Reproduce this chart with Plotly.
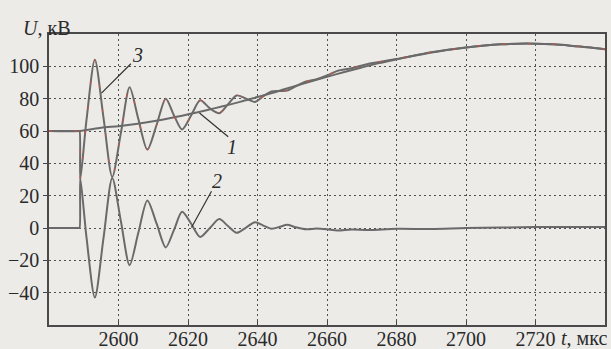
import plotly.graph_objects as go

# time, µs
t1 = [2580, 2588.8, 2595, 2600, 2605, 2610, 2615, 2620, 2625, 2630, 2635, 2640, 2645, 2650,
      2655, 2660, 2665, 2670, 2675, 2680, 2685, 2690, 2695, 2700, 2705, 2710, 2715, 2720,
      2725, 2730, 2735, 2740]
u1 = [60, 60, 62, 63, 64.3, 66, 68, 70.3, 72.7, 75.3, 78, 81, 84, 87.3,
      90.5, 93.5, 96.5, 99.3, 102, 104.3, 106.5, 108.5, 110.3, 111.7, 112.8, 113.6, 114, 114,
      113.6, 112.8, 111.8, 110.5]

t2 = [2580, 2588.6, 2588.8, 2589.0, 2590.8, 2593.2, 2595.7, 2598.2, 2600.7, 2603.2, 2605.7, 2608.3,
      2611, 2613.6, 2616, 2618.3, 2621, 2623.5, 2626.3, 2629, 2631.5, 2634, 2636.7, 2639.3,
      2641.7, 2644, 2646.5, 2648.5, 2651, 2654, 2657, 2660, 2663, 2667, 2672, 2680, 2690,
      2700, 2710, 2720, 2740]
u2 = [0, 0, 0, 31, -6, -43, -6, 31, 4, -23, -3, 17,
      2.5, -12, -1, 10, 2.3, -5.5, 0, 5.5, 1.2, -3, 0.3, 3.6,
      1.5, -0.5, 0.8, 2, 0.5, -0.8, -0.3, -0.8, -1.6, -1, -1.2, -0.5, -0.6,
      0, 0.3, 0.6, 0.6]

t3 = [2580, 2588.6, 2588.8, 2589.0, 2590.8, 2593.2, 2595.7, 2598.2, 2600.7, 2603.2, 2605.7, 2608.3,
      2611, 2613.6, 2616, 2618.3, 2621, 2623.5, 2626.3, 2629, 2631.5, 2634, 2636.7, 2639.3,
      2641.7, 2644, 2646.5, 2648.5, 2651, 2654, 2657, 2660, 2663, 2667, 2672, 2680, 2690,
      2700, 2710, 2715, 2720, 2725, 2730, 2735, 2740]
u3 = [60, 60, 60, 30, 67, 104, 68, 31.6, 59, 87, 67.5, 48.5,
      64, 80, 69.5, 61, 70, 79, 74, 71, 76.5, 82, 80, 78,
      81.5, 84.5, 84.8, 85, 87.6, 90.6, 92, 94.3, 97.2, 98.8, 101.6, 104.5, 108.7,
      111.7, 113.6, 114, 114, 113.6, 112.8, 111.8, 110.5]

x_ticks = [2600, 2620, 2640, 2660, 2680, 2700, 2720]
y_ticks = [-40, -20, 0, 20, 40, 60, 80, 100]
y_ticktext = ["\u221240", "\u221220", "0", "20", "40", "60", "80", "100"]

curve_color = "#6a6a6a"
bg = "#ecebe8"
font_family = "Liberation Serif"

fig = go.Figure()
fig.add_trace(go.Scatter(x=t1, y=u1, mode="lines", line=dict(color=curve_color, width=2, shape="spline", smoothing=0.8)))
fig.add_trace(go.Scatter(x=t2, y=u2, mode="lines", line=dict(color=curve_color, width=2, shape="spline", smoothing=0.8)))
fig.add_trace(go.Scatter(x=t3, y=u3, mode="lines", line=dict(color=curve_color, width=2, shape="spline", smoothing=0.8)))
fig.add_trace(go.Scatter(x=t3, y=u3, mode="lines", opacity=0.7,
                         line=dict(color="#e0503c", width=1.3, shape="spline", smoothing=0.8, dash="3px,22px")))

tick_font = dict(family=font_family, size=20, color="#2a2a2a")
grid = dict(showgrid=True, gridcolor="#505050", gridwidth=1, griddash="2px,3px")
fig.update_xaxes(range=[2580, 2740], tickvals=x_ticks, ticks="inside", ticklen=4, tickcolor="#444",
                 showline=True, mirror=True, linecolor="#4a4a4a", linewidth=1.5, zeroline=False,
                 tickfont=tick_font, automargin=False, ticklabelstandoff=-5, **grid)
fig.update_yaxes(range=[-60, 120], tickvals=y_ticks, ticktext=y_ticktext, ticks="outside", ticklen=4,
                 tickcolor="#444", showline=True, mirror=True, linecolor="#4a4a4a", linewidth=1.5,
                 zeroline=False, tickfont=tick_font, automargin=False, **grid)

lab_font = dict(family=font_family, size=20, color="#2a2a2a")
annotations = [
    dict(text="<i>U</i>, кВ", xref="paper", yref="paper", x=-0.05, y=1.02, xanchor="left",
         yanchor="middle", showarrow=False, font=lab_font),
    dict(text="<i>t</i>, мкс", xref="paper", yref="paper", x=0.917, y=-0.045, xanchor="left",
         yanchor="middle", showarrow=False, font=lab_font),
    dict(text="<i>3</i>", x=2605.4, y=106.8, showarrow=False, font=lab_font),
    dict(text="<i>1</i>", x=2632.8, y=50.2, showarrow=False, font=lab_font),
    dict(text="<i>2</i>", x=2628.4, y=28.8, showarrow=False, font=lab_font),
    dict(x=2595.1, y=83.4, ax=2604, ay=102.5, axref="x", ayref="y", text="", showarrow=True,
         arrowhead=0, arrowwidth=1.2, arrowcolor="#333"),
    dict(x=2623.3, y=71.1, ax=2632, ay=55.7, axref="x", ayref="y", text="", showarrow=True,
         arrowhead=0, arrowwidth=1.2, arrowcolor="#333"),
    dict(x=2621, y=0.3, ax=2627, ay=23.7, axref="x", ayref="y", text="", showarrow=True,
         arrowhead=0, arrowwidth=1.2, arrowcolor="#333"),
]

fig.update_layout(width=611, height=349, margin=dict(l=49, r=6, t=34, b=24),
                  paper_bgcolor=bg, plot_bgcolor=bg, showlegend=False,
                  annotations=annotations)
fig.write_html("out.html", config={"displayModeBar": False},
               post_script="document.body.style.margin='0';document.body.style.overflow='hidden';"
                           "document.body.style.background='%s';" % bg)
